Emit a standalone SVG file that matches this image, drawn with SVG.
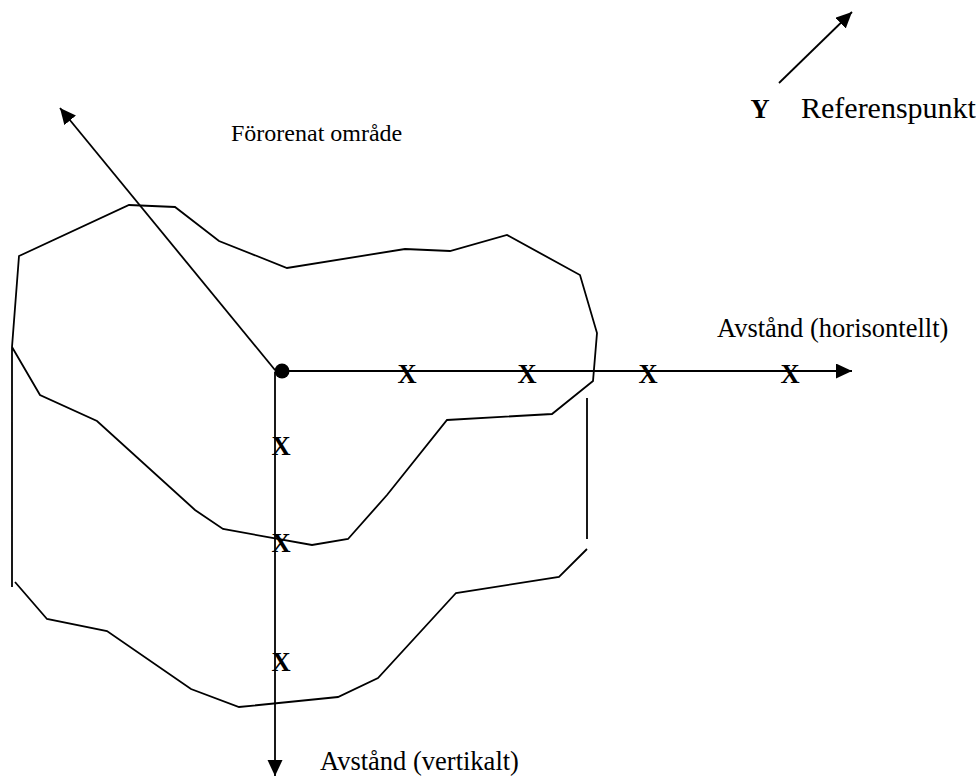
<svg xmlns="http://www.w3.org/2000/svg" width="976" height="776" viewBox="0 0 976 776">
<defs>
<style>
.ln{fill:none;stroke:#000;stroke-width:1.8;stroke-linejoin:miter}
.ax{fill:none;stroke:#000;stroke-width:1.8}
.t{font-family:"Liberation Serif","Times New Roman",serif;font-size:26.5px;fill:#000}
.x{font-family:"Liberation Serif","Times New Roman",serif;font-size:26.5px;font-weight:bold;fill:#000;text-anchor:middle}
</style>
<marker id="ah" markerUnits="userSpaceOnUse" markerWidth="17" markerHeight="16" refX="16" refY="7.5" orient="auto" viewBox="0 0 17 16">
<path d="M0,0 L16,7.5 L0,15 z" fill="#000"/>
</marker>
</defs>
<rect width="976" height="776" fill="#fff"/>
<g id="area">
<polyline class="ln" points="12,587 12,347 19,256 129,205 175,207 219,241 287,268 405,249 450,251 507,235 580,275 597,333 593,381 552,414 447,420 387,495 348,539 312,545 223,529 195,510 97,421 40,395 12,347"/>
<line class="ln" x1="587" y1="398" x2="587" y2="539"/>
<polyline class="ln" points="15,582 47,619 107,631 191,689 239,707 338,697 378,678 456,593 559,577 587,549"/>
</g>
<g id="connectors">
<line class="ax" x1="281" y1="371" x2="852" y2="371" marker-end="url(#ah)"/>
<line class="ax" x1="275" y1="372" x2="275" y2="776" marker-end="url(#ah)"/>
<line class="ax" x1="275" y1="370" x2="60" y2="108" marker-end="url(#ah)"/>
<line class="ax" x1="779" y1="83" x2="852" y2="12" marker-end="url(#ah)"/>
</g>
<g id="origin">
<circle cx="282" cy="371" r="7.5" fill="#000"/>
</g>
<g id="points">
<text class="x" x="407" y="383">X</text>
<text class="x" x="527" y="383">X</text>
<text class="x" x="648" y="383">X</text>
<text class="x" x="790" y="383">X</text>
<text class="x" x="281" y="455">X</text>
<text class="x" x="281" y="552">X</text>
<text class="x" x="281" y="671">X</text>
</g>
<g id="labels">
<text class="t" x="231" y="141" style="font-size:24px">Förorenat område</text>
<text class="x" x="760" y="118">Y</text>
<text class="t" x="801" y="118" style="font-size:30px">Referenspunkt</text>
<text class="t" x="717" y="337">Avstånd (horisontellt)</text>
<text class="t" x="320" y="770">Avstånd (vertikalt)</text>
</g>
</svg>
